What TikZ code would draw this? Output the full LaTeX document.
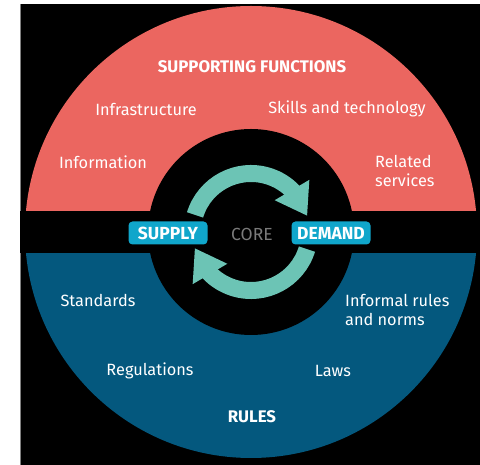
\documentclass[tikz,border=0pt]{standalone}
\usepackage{fontspec}
\setmainfont{Fira Sans}
\usetikzlibrary{arrows.meta,bending}
\definecolor{sfred}{HTML}{EB6660}
\definecolor{rulesblue}{HTML}{04587E}
\definecolor{coreteal}{HTML}{6CC4B5}
\definecolor{boxcyan}{HTML}{10A6CB}
\definecolor{coregray}{HTML}{7A7A7A}
\tikzset{
	txt/.style={text=white,font=\fontsize{16.3}{19}\selectfont,align=left,inner sep=0pt},
	head/.style={text=white,font=\fontsize{16.8}{19}\selectfont\bfseries,inner sep=0pt},
	side/.style={fill=boxcyan,rounded corners=4pt,text=white,font=\fontsize{17.5}{19}\selectfont\bfseries,
		minimum width=79pt,minimum height=23pt,inner xsep=3pt,inner ysep=0pt}
}
\begin{document}
\begin{tikzpicture}[x=1pt,y=1pt]
\useasboundingbox (0,0) rectangle (480,465);
\fill[white] (0,0) rectangle (480,465);
\fill[black] (20,0) rectangle (480,461);
\draw[gray] (20,0) -- (20,461);

\coordinate (C) at (251,233);
\fill[sfred] (C) ++(-226,0) arc (180:0:226) -- cycle;
\fill[rulesblue] (C) ++(226,0) arc (0:-180:226) -- cycle;
\fill[black] (20,212) rectangle (480,254);
\fill[black] (C) circle (103);

\foreach \a in {0,180}
{
	\pgfmathtruncatemacro{\from}{163+\a};
	\pgfmathtruncatemacro{\to}{16+\a};
	\draw[coreteal,line width=17pt,-{Triangle[length=30pt,width=38pt,flex]}]
		(C) ++(\from:58.5) arc (\from:\to:58.5);
}

\node at (252,398)[head](SF){SUPPORTING FUNCTIONS};
\node at (146,356)[txt](Inf){Infrastructure};
\node at (347,356)[txt](Skl){Skills and technology};
\node at (103,303)[txt](Info){Information};
\node at (375,294)[txt,anchor=west](Rel){Related\\services};

\node at (168,232)[side](Sup){SUPPLY};
\node at (252,231)[txt,text=coregray,font=\fontsize{17.5}{19}\selectfont](Core){CORE};
\node at (331,232)[side](Dem){DEMAND};

\node at (98,165)[txt](Std){Standards};
\node at (345,155)[txt,anchor=west](Inr){Informal rules\\and norms};
\node at (150,94)[txt](Reg){Regulations};
\node at (333,94)[txt](Law){Laws};
\node at (252,48)[head](Rul){RULES};
\end{tikzpicture}
\end{document}
